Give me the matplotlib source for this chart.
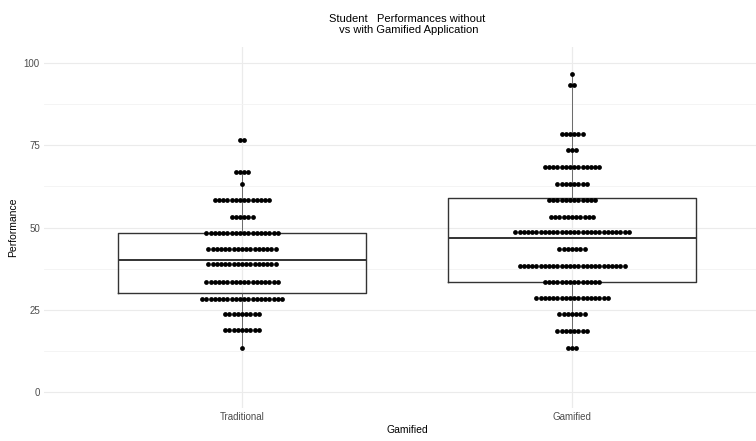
import matplotlib.pyplot as plt
import numpy as np

groups = ['Traditional', 'Gamified']

# dot rows: bin value and number of dots in it
trad_bins = [13.3, 18.8, 23.6, 28.3, 33.3, 38.8, 43.6, 48.4, 53.3, 58.3, 63.3, 66.8, 76.8]
trad_counts = [1, 9, 9, 20, 18, 17, 17, 18, 6, 14, 1, 4, 2]

gam_bins = [13.3, 18.5, 23.6, 28.5, 33.3, 38.3, 43.3, 48.5, 53.3, 58.5, 63.2, 68.3, 73.6, 78.5, 93.3, 96.7]
gam_counts = [3, 8, 7, 18, 14, 26, 7, 28, 11, 12, 8, 14, 3, 6, 2, 1]

# box statistics
trad_box = dict(whislo=13.3, q1=30.1, med=40.2, q3=48.3, whishi=66.8, fliers=[76.8])
gam_box = dict(whislo=13.3, q1=33.4, med=46.8, q3=59.0, whishi=96.7, fliers=[])

plt.rcParams['font.family'] = ['Liberation Sans Narrow', 'Liberation Sans', 'DejaVu Sans']

W, H = 756, 441
fig = plt.figure(figsize=(W / 100, H / 100), dpi=100)
ax = fig.add_axes([44 / W, (H - 408) / H, 726 / W, 361 / H])
ax.set_xlim(0.4, 2.6)
ax.set_ylim(-5, 105)

# theme_minimal grid
ax.set_yticks([0, 25, 50, 75, 100])
ax.set_yticks([12.5, 37.5, 62.5, 87.5], minor=True)
ax.set_xticks([1, 2])
ax.set_xticklabels(groups)
ax.grid(True, which='major', color='#ebebeb', lw=0.8)
ax.grid(True, which='minor', axis='y', color='#f3f3f3', lw=0.6)
ax.set_axisbelow(True)
for s in ax.spines.values():
    s.set_visible(False)
ax.tick_params(which='both', length=0, labelsize=7, labelcolor='#4d4d4d', pad=3)

boxes = [dict(trad_box, label=groups[0]), dict(gam_box, label=groups[1])]
ax.bxp(boxes, positions=[1, 2], widths=0.75, showfliers=False,
       boxprops=dict(color='#333333', lw=1.0),
       medianprops=dict(color='#333333', lw=1.4),
       whiskerprops=dict(color='#555555', lw=0.6),
       showcaps=False)

fig.canvas.draw()
px_per_unit = ax.get_window_extent().width / 2.2
dot_px = 4.2
dx = dot_px / px_per_unit

for pos, bins, counts in [(1, trad_bins, trad_counts), (2, gam_bins, gam_counts)]:
    for v, n in zip(bins, counts):
        xs = pos + (np.arange(n) - (n - 1) / 2) * dx
        ax.plot(xs, [v] * n, 'o', color='black', ms=4.8 * 0.72, mew=0, zorder=5)

ax.set_ylabel('Performance', fontsize=7.5, labelpad=4)
ax.set_xlabel('Gamified', fontsize=7.5, labelpad=2)
ax.set_title('Student   Performances without\n vs with Gamified Application',
             fontsize=8, pad=10, linespacing=1.1)

fig.savefig('out.png', dpi=100)
